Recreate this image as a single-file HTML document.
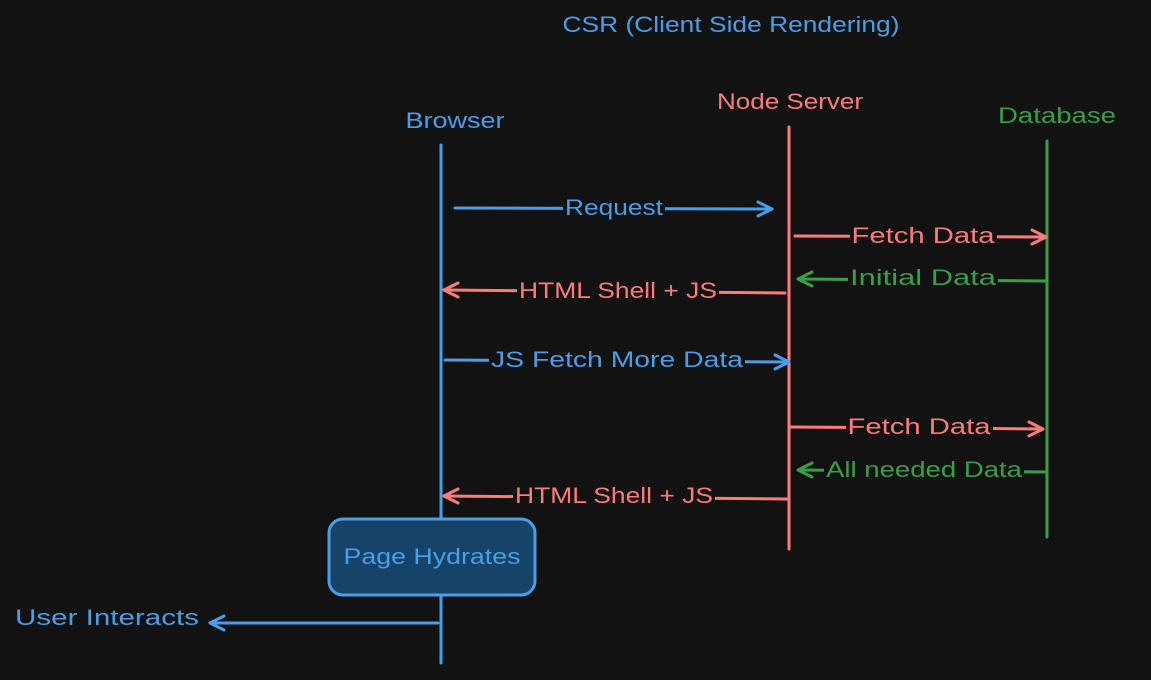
<!DOCTYPE html>
<html><head><meta charset="utf-8"><style>
html,body{margin:0;padding:0;background:#121212;}
svg{display:block}
text{font-family:"Liberation Sans",sans-serif;font-size:22px;dominant-baseline:middle;text-anchor:middle}
</style></head><body>
<svg width="1151" height="680" viewBox="0 0 1151 680" xmlns="http://www.w3.org/2000/svg">
<rect width="1151" height="680" fill="#121212"/>
<g fill="none" stroke-width="3" stroke-linecap="round" stroke-linejoin="round">
<line x1="441" y1="145" x2="441" y2="663" stroke="#4a9ee8"/>
<line x1="789" y1="127" x2="789" y2="549" stroke="#ff7b7b"/>
<line x1="1047" y1="141" x2="1047" y2="537" stroke="#37a046"/>
<g stroke="#4a9ee8">
<line x1="455" y1="208" x2="772" y2="209"/><polyline points="758,202 772,209 758,216"/>
<line x1="445" y1="360" x2="789" y2="362"/><polyline points="775,355 789,362 775,369"/>
<line x1="438" y1="623" x2="210" y2="623"/><polyline points="224,616 210,623 224,630"/>
</g>
<g stroke="#ff7b7b">
<line x1="795" y1="236" x2="1046" y2="237"/><polyline points="1032,230 1046,237 1032,244"/>
<line x1="785" y1="293" x2="444" y2="290"/><polyline points="458,283 444,290 458,297"/>
<line x1="791" y1="427" x2="1043" y2="429"/><polyline points="1029,422 1043,429 1029,436"/>
<line x1="787" y1="499" x2="444" y2="496"/><polyline points="458,489 444,496 458,503"/>
</g>
<g stroke="#37a046">
<line x1="1047" y1="281" x2="798" y2="279"/><polyline points="812,272 798,279 812,286"/>
<line x1="1047" y1="472" x2="798" y2="470"/><polyline points="812,463 798,470 812,477"/>
</g>
<rect x="329" y="519" width="206" height="76" rx="14" fill="#164469" stroke="#4a9ee8"/>
</g>
<g fill="#121212">
<rect x="563" y="196" width="102" height="26"/>
<rect x="850" y="224" width="147" height="26"/>
<rect x="848" y="266" width="150" height="26"/>
<rect x="517" y="279" width="202" height="26"/>
<rect x="489" y="348" width="256" height="26"/>
<rect x="846" y="415" width="147" height="26"/>
<rect x="824" y="458" width="200" height="26"/>
<rect x="513" y="484" width="202" height="26"/>
</g>
<text x="731" y="26" fill="#4a9ee8" textLength="337" lengthAdjust="spacingAndGlyphs">CSR (Client Side Rendering)</text>
<text x="455" y="122" fill="#4a9ee8" textLength="99" lengthAdjust="spacingAndGlyphs">Browser</text>
<text x="790" y="103" fill="#ff7b7b" textLength="146" lengthAdjust="spacingAndGlyphs">Node Server</text>
<text x="1057" y="117" fill="#37a046" textLength="118" lengthAdjust="spacingAndGlyphs">Database</text>
<text x="614" y="209" fill="#4a9ee8" textLength="98" lengthAdjust="spacingAndGlyphs">Request</text>
<text x="923" y="237" fill="#ff7b7b" textLength="143" lengthAdjust="spacingAndGlyphs">Fetch Data</text>
<text x="923" y="279" fill="#37a046" textLength="146" lengthAdjust="spacingAndGlyphs">Initial Data</text>
<text x="618" y="292" fill="#ff7b7b" textLength="198" lengthAdjust="spacingAndGlyphs">HTML Shell + JS</text>
<text x="617" y="361" fill="#4a9ee8" textLength="252" lengthAdjust="spacingAndGlyphs">JS Fetch More Data</text>
<text x="919" y="428" fill="#ff7b7b" textLength="143" lengthAdjust="spacingAndGlyphs">Fetch Data</text>
<text x="924" y="471" fill="#37a046" textLength="196" lengthAdjust="spacingAndGlyphs">All needed Data</text>
<text x="614" y="497" fill="#ff7b7b" textLength="198" lengthAdjust="spacingAndGlyphs">HTML Shell + JS</text>
<text x="432" y="558" fill="#4a9ee8" textLength="177" lengthAdjust="spacingAndGlyphs">Page Hydrates</text>
<text x="15" y="619" fill="#4a9ee8" style="text-anchor:start" textLength="184" lengthAdjust="spacingAndGlyphs">User Interacts</text>
</svg>
</body></html>
